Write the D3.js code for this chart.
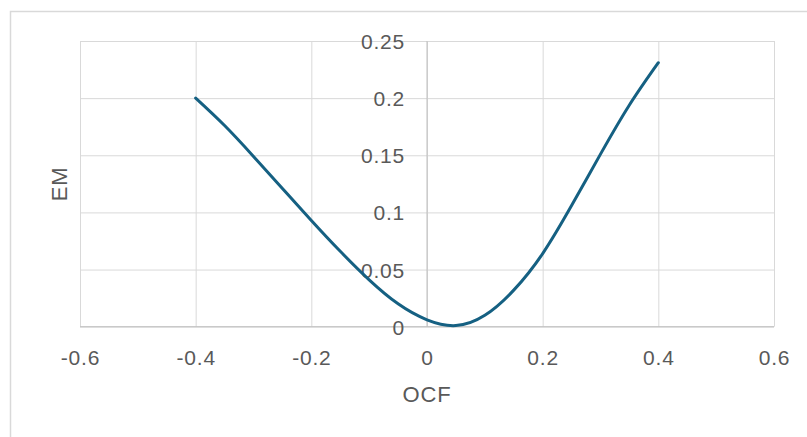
<!DOCTYPE html>
<html>
<head>
<meta charset="utf-8">
<script src="https://cdn.jsdelivr.net/npm/d3@7"></script>
<style>
  body { margin: 0; background: #fff; }
  svg text { font-family: "Liberation Sans", Arial, sans-serif; fill: #595959; }
</style>
</head>
<body>
<div id="chart"></div>
<script>
// EM against OCF
const ocf = [-0.4, -0.35, -0.3, -0.25, -0.2, -0.15, -0.1, -0.05, 0, 0.05, 0.1, 0.15, 0.2, 0.25, 0.3, 0.35, 0.4]
const em  = [0.200, 0.176, 0.149, 0.121, 0.093, 0.066, 0.041, 0.020, 0.006, 0.001, 0.010, 0.032, 0.064, 0.106, 0.151, 0.194, 0.231]

const xTicks = [-0.6, -0.4, -0.2, 0, 0.2, 0.4, 0.6]
const xLabels = ["-0.6", "-0.4", "-0.2", "0", "0.2", "0.4", "0.6"]
const yTicks = [0, 0.05, 0.1, 0.15, 0.2, 0.25]
const yLabels = ["0", "0.05", "0.1", "0.15", "0.2", "0.25"]

const width = 807, height = 437
const plot = {left: 80, right: 774, top: 41, bottom: 326.7}

const svg = d3.select("#chart").append("svg")
    .attr("width", width)
    .attr("height", height)

// chart border (runs off the bottom and right of the picture)
svg.append("rect")
    .attr("x", 10.5).attr("y", 11.5)
    .attr("width", 900).attr("height", 500)
    .attr("fill", "none")
    .attr("stroke", "#d9d9d9")
    .attr("stroke-width", 1.5)

const x = d3.scaleLinear().domain([-0.6, 0.6]).range([plot.left, plot.right])
const y = d3.scaleLinear().domain([0, 0.25]).range([plot.bottom, plot.top])

// gridlines
svg.append("g")
    .attr("transform", `translate(0,${plot.bottom})`)
    .call(d3.axisBottom(x).tickValues(xTicks).tickSize(-(plot.bottom - plot.top)).tickFormat(""))
    .call(g => g.select(".domain").remove())
    .call(g => g.selectAll("line").attr("stroke", "#d9d9d9"))

svg.append("g")
    .attr("transform", `translate(${plot.left},0)`)
    .call(d3.axisLeft(y).tickValues(yTicks).tickSize(-(plot.right - plot.left)).tickFormat(""))
    .call(g => g.select(".domain").remove())
    .call(g => g.selectAll("line").attr("stroke", "#d9d9d9"))

// axis lines crossing at zero
svg.append("line")
    .attr("x1", plot.left).attr("x2", plot.right)
    .attr("y1", y(0)).attr("y2", y(0))
    .attr("stroke", "#bfbfbf")
svg.append("line")
    .attr("x1", x(0)).attr("x2", x(0))
    .attr("y1", plot.top).attr("y2", plot.bottom)
    .attr("stroke", "#bfbfbf")

// tick labels
svg.append("g")
    .attr("transform", `translate(0,${plot.bottom})`)
    .call(d3.axisBottom(x).tickValues(xTicks).tickSize(0).tickFormat((d, i) => xLabels[i]))
    .call(g => g.select(".domain").remove())
    .call(g => g.selectAll("text")
        .attr("y", 38.5).attr("dy", 0)
        .attr("font-size", 21).attr("letter-spacing", 0.8)
        .attr("fill", "#595959"))

svg.append("g")
    .attr("transform", `translate(${x(0)},0)`)
    .call(d3.axisLeft(y).tickValues(yTicks).tickSize(0).tickFormat((d, i) => yLabels[i]))
    .call(g => g.select(".domain").remove())
    .call(g => g.selectAll("text")
        .attr("x", -22).attr("dy", 7.5)
        .attr("font-size", 21).attr("letter-spacing", 0.8)
        .attr("fill", "#595959"))

// axis titles
svg.append("text")
    .attr("x", x(0)).attr("y", 402)
    .attr("text-anchor", "middle")
    .attr("font-size", 22).attr("letter-spacing", 0.8)
    .text("OCF")

svg.append("text")
    .attr("transform", `translate(67,${(plot.top + plot.bottom) / 2}) rotate(-90)`)
    .attr("text-anchor", "middle")
    .attr("font-size", 22).attr("letter-spacing", 0.8)
    .text("EM")

// the curve
const pts = ocf.map((d, i) => ({ocf: d, em: em[i]}))
const line = d3.line()
    .x(d => x(d.ocf))
    .y(d => y(d.em))
    .curve(d3.curveNatural)

svg.append("path")
    .attr("d", line(pts))
    .attr("fill", "none")
    .attr("stroke", "#156082")
    .attr("stroke-width", 3)
    .attr("stroke-linecap", "round")
</script>
</body>
</html>
